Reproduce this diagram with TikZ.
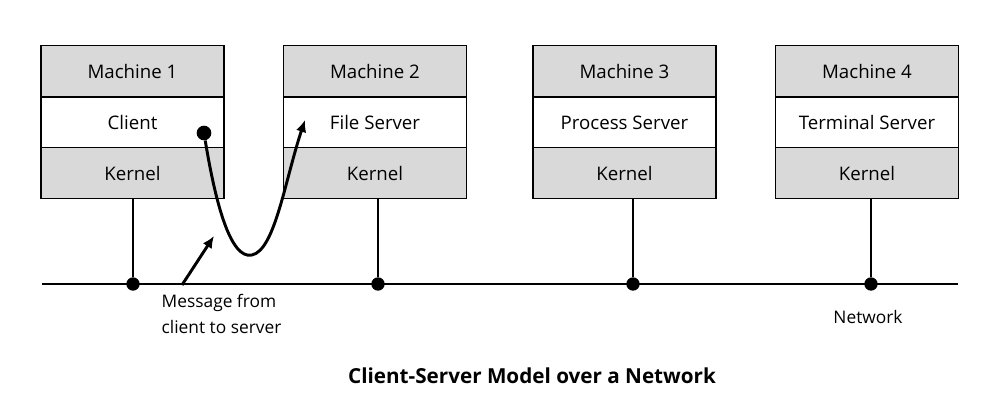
\documentclass[tikz,border=0pt]{standalone}
\usepackage{fontspec}
\setmainfont{Open Sans}
\usetikzlibrary{arrows.meta}
\begin{document}
\begin{tikzpicture}[x=0.75pt,y=-0.75pt,
  cell/.style={draw=black,line width=1.2pt,minimum width=137.25pt,minimum height=38pt,inner sep=0pt,font=\fontsize{14pt}{16pt}\selectfont},
  grey/.style={cell,fill=gray!30},
  white/.style={cell,fill=white},
  wire/.style={line width=2.2pt},
  dot/.style={circle,fill=black,minimum size=10pt,inner sep=0pt},
  lbl/.style={font=\fontsize{13pt}{19pt}\selectfont,align=left}]
\useasboundingbox (0,0) rectangle (1000,400);
\foreach \n/\x/\t in {1/132.5/Client,2/375/File Server,3/624.5/Process Server,4/867/Terminal Server}{
  \node[grey] (m\n) at (\x,71) {Machine \n};
  \node[white] (s\n) at (\x,122.5) {\t};
  \node[grey] (k\n) at (\x,173) {Kernel};
}
\coordinate (nl) at (42,284);
\coordinate (nr) at (958,284);
\draw[wire] (nl) -- (nr);
\foreach \n/\x in {1/133,2/378,3/633,4/871}{
  \node[dot] (d\n) at (\x,284) {};
  \draw[wire] (k\n.south -| d\n) -- (d\n);
}
\node[dot,minimum size=11pt] (c) at (204,133) {};
\coordinate (fs) at (305,120);
\draw[wire,-{Latex[length=9pt,width=8pt]}] (c) .. controls (215,200) and (230,260) .. (252,255) .. controls (275,250) and (285,180) .. (fs);
\coordinate (ma) at (182,285);
\coordinate (mb) at (214,236);
\draw[wire,-{Latex[length=9pt,width=8pt]}] (ma) -- (mb);
\node[lbl,anchor=north west] (msg) at (157,290) {Message from\\client to server};
\node[lbl] (net) at (868,317) {Network};
\node[font=\bfseries\fontsize{15.5pt}{18pt}\selectfont] (title) at (532,376) {Client-Server Model over a Network};
\end{tikzpicture}
\end{document}
